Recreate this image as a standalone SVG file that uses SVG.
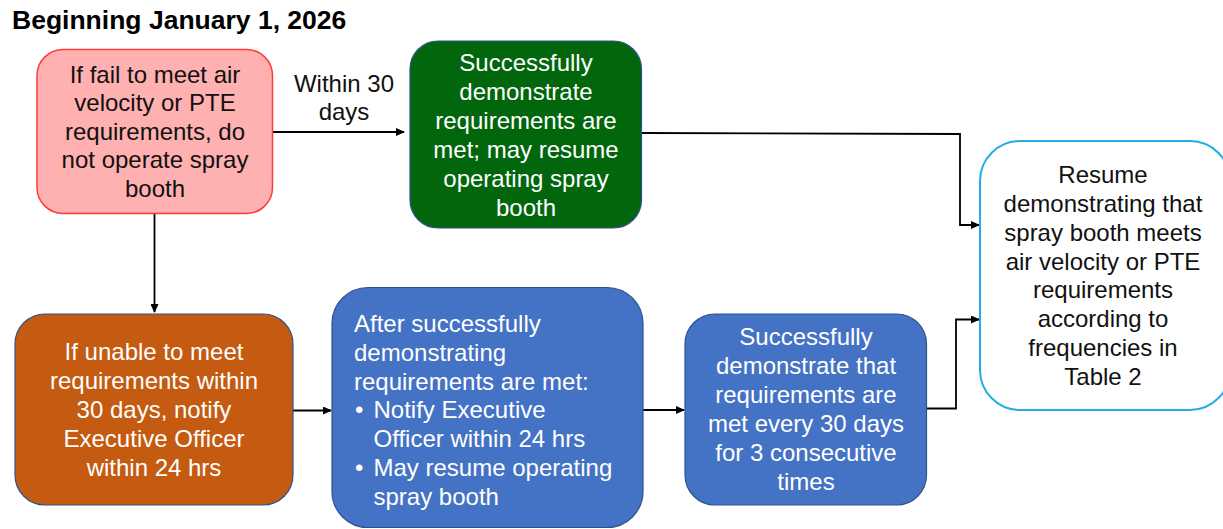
<svg xmlns="http://www.w3.org/2000/svg" width="1223" height="529" viewBox="0 0 1223 529">
<defs>
<marker id="ah" markerWidth="9" markerHeight="8" refX="8" refY="4" orient="auto" markerUnits="userSpaceOnUse">
<path d="M0,0 L9,4 L0,8 z" fill="#000"/>
</marker>
<style>
text{font-family:"Liberation Sans",Arial,sans-serif;font-size:24px}
.c{text-anchor:middle}
.w{fill:#ffffff}
.k{fill:#111111}
.title{font-weight:bold;font-size:26.5px;fill:#000}
.conn{fill:none;stroke:#000;stroke-width:1.8}
</style>
</defs>
<rect width="1223" height="529" fill="#ffffff"/>
<text class="title" x="12" y="28.5">Beginning January 1, 2026</text>
<g id="connectors">
<path class="conn" d="M273,132 L404,132" marker-end="url(#ah)"/>
<path class="conn" d="M642,133 L960,134 L960,225 L979,225" marker-end="url(#ah)"/>
<path class="conn" d="M154.5,214 L154.5,312" marker-end="url(#ah)"/>
<path class="conn" d="M293,410.5 L331,410.5" marker-end="url(#ah)"/>
<path class="conn" d="M643,410 L684,410" marker-end="url(#ah)"/>
<path class="conn" d="M927,408.5 L956,408.5 L956,319.5 L979,319.5" marker-end="url(#ah)"/>
<text class="k c" x="344" y="91.5">Within 30</text>
<text class="k c" x="344" y="120">days</text>
</g>
<g id="n-fail">
<rect x="37" y="49.5" width="235.5" height="164" rx="26" fill="#FFB0B0" stroke="#FF3B3B" stroke-width="1.5"/>
<text class="k c" x="155" y="82.5">If fail to meet air</text>
<text class="k c" x="155" y="111">velocity or PTE</text>
<text class="k c" x="155" y="139.5">requirements, do</text>
<text class="k c" x="155" y="168">not operate spray</text>
<text class="k c" x="155" y="196.5">booth</text>
</g>
<g id="n-success30">
<rect x="410" y="41" width="231.5" height="187" rx="28" fill="#02660C" stroke="#2F528F" stroke-width="1.2"/>
<text class="w c" x="526" y="70.5">Successfully</text>
<text class="w c" x="526" y="99.5">demonstrate</text>
<text class="w c" x="526" y="128.5">requirements are</text>
<text class="w c" x="526" y="157.5">met; may resume</text>
<text class="w c" x="526" y="186.5">operating spray</text>
<text class="w c" x="526" y="215.5">booth</text>
</g>
<g id="n-resume">
<rect x="980" y="141" width="250" height="269" rx="40" fill="#ffffff" stroke="#22ADE4" stroke-width="2"/>
<text class="k c" x="1103" y="183">Resume</text>
<text class="k c" x="1103" y="212">demonstrating that</text>
<text class="k c" x="1103" y="241">spray booth meets</text>
<text class="k c" x="1103" y="269.5">air velocity or PTE</text>
<text class="k c" x="1103" y="298">requirements</text>
<text class="k c" x="1103" y="326.5">according to</text>
<text class="k c" x="1103" y="355.5">frequencies in</text>
<text class="k c" x="1103" y="384.5">Table 2</text>
</g>
<g id="n-notify">
<rect x="15" y="314" width="278" height="191" rx="30" fill="#C55A11" stroke="#2F528F" stroke-width="1.2"/>
<text class="w c" x="154" y="360">If unable to meet</text>
<text class="w c" x="154" y="389">requirements within</text>
<text class="w c" x="154" y="418">30 days, notify</text>
<text class="w c" x="154" y="447">Executive Officer</text>
<text class="w c" x="154" y="476">within 24 hrs</text>
</g>
<g id="n-after">
<rect x="332" y="287.5" width="311" height="240" rx="36" fill="#4472C4" stroke="#2F528F" stroke-width="1.2"/>
<text class="w" x="354" y="331.5">After successfully</text>
<text class="w" x="354" y="360.5">demonstrating</text>
<text class="w" x="354" y="389.5">requirements are met:</text>
<text class="w" x="355" y="418">•</text>
<text class="w" x="373.5" y="418">Notify Executive</text>
<text class="w" x="373.5" y="447">Officer within 24 hrs</text>
<text class="w" x="355" y="476">•</text>
<text class="w" x="373.5" y="476">May resume operating</text>
<text class="w" x="373.5" y="504.5">spray booth</text>
</g>
<g id="n-every30">
<rect x="685" y="314" width="241.5" height="191" rx="30" fill="#4472C4" stroke="#2F528F" stroke-width="1.2"/>
<text class="w c" x="806" y="345">Successfully</text>
<text class="w c" x="806" y="374">demonstrate that</text>
<text class="w c" x="806" y="403">requirements are</text>
<text class="w c" x="806" y="432">met every 30 days</text>
<text class="w c" x="806" y="461">for 3 consecutive</text>
<text class="w c" x="806" y="490">times</text>
</g>
</svg>
